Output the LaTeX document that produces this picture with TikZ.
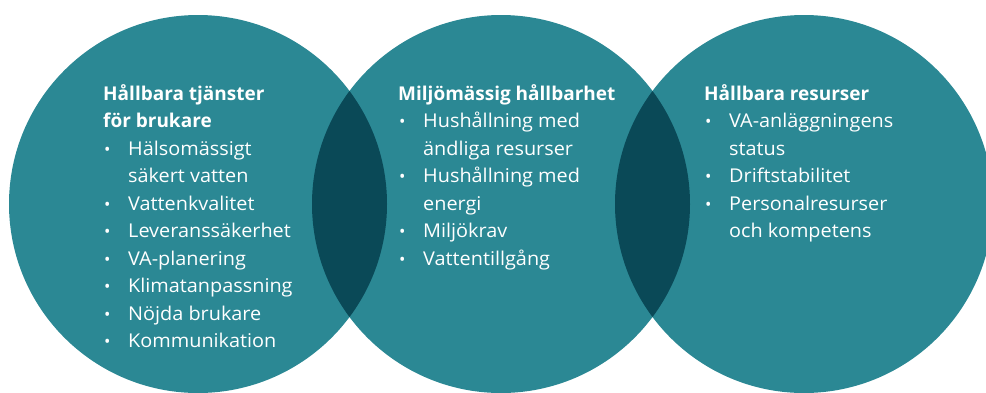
\documentclass[tikz,border=0pt]{standalone}
\usepackage{fontspec}
\setmainfont{Open Sans}
\newfontfamily\bodyfont[FakeStretch=1.045]{Open Sans}
\definecolor{teal1}{HTML}{2B8894}
\definecolor{tealdark}{HTML}{0A4957}
\tikzset{
  txt/.style={anchor=base west, inner sep=0pt, text=white, font=\bodyfont\fontsize{19}{27.5}\selectfont},
  hdr/.style={anchor=base west, inner sep=0pt, text=white, font=\fontsize{19}{27.5}\selectfont\bfseries},
  blt/.style={txt, font=\fontsize{17}{27.5}\selectfont},
}
\begin{document}
\begin{tikzpicture}[x=1pt,y=-1pt]
\useasboundingbox (0,0) rectangle (986,392);
\clip (0,0) rectangle (986,392);
\def\R{189}
\coordinate (cL) at (198,204);
\coordinate (cM) at (501,204);
\coordinate (cR) at (804,204);
\fill[teal1] (cL) circle[radius=\R];
\fill[teal1] (cM) circle[radius=\R];
\fill[teal1] (cR) circle[radius=\R];
\begin{scope}
  \clip (cL) circle[radius=\R];
  \fill[tealdark] (cM) circle[radius=\R];
\end{scope}
\begin{scope}
  \clip (cR) circle[radius=\R];
  \fill[tealdark] (cM) circle[radius=\R];
\end{scope}
% left block
\node[hdr] (l0) at (103,100) {Hållbara tjänster};
\node[hdr] (l0b) at (103,127.5) {för brukare};
\node[blt] (lb1) at (104,155) {•}; \node[txt] (l1) at (128,155) {Hälsomässigt};
\node[txt] (l1b) at (128,182.5) {säkert vatten};
\node[blt] (lb2) at (104,210) {•}; \node[txt] (l2) at (128,210) {Vattenkvalitet};
\node[blt] (lb3) at (104,237.5) {•}; \node[txt] (l3) at (128,237.5) {Leveranssäkerhet};
\node[blt] (lb4) at (104,265) {•}; \node[txt] (l4) at (128,265) {VA-planering};
\node[blt] (lb5) at (104,292.5) {•}; \node[txt] (l5) at (128,292.5) {Klimatanpassning};
\node[blt] (lb6) at (104,320) {•}; \node[txt] (l6) at (128,320) {Nöjda brukare};
\node[blt] (lb7) at (104,347.5) {•}; \node[txt] (l7) at (128,347.5) {Kommunikation};
% middle block
\node[hdr] (m0) at (398,100) {Miljömässig hållbarhet};
\node[blt] (mb1) at (399,127.5) {•}; \node[txt] (m1) at (423,127.5) {Hushållning med};
\node[txt] (m1b) at (423,155) {ändliga resurser};
\node[blt] (mb2) at (399,182.5) {•}; \node[txt] (m2) at (423,182.5) {Hushållning med};
\node[txt] (m2b) at (423,210) {energi};
\node[blt] (mb3) at (399,237.5) {•}; \node[txt] (m3) at (423,237.5) {Miljökrav};
\node[blt] (mb4) at (399,265) {•}; \node[txt] (m4) at (423,265) {Vattentillgång};
% right block
\node[hdr] (r0) at (704,100) {Hållbara resurser};
\node[blt] (rb1) at (705,127.5) {•}; \node[txt] (r1) at (729,127.5) {VA-anläggningens};
\node[txt] (r1b) at (729,155) {status};
\node[blt] (rb2) at (705,182.5) {•}; \node[txt] (r2) at (729,182.5) {Driftstabilitet};
\node[blt] (rb3) at (705,210) {•}; \node[txt] (r3) at (729,210) {Personalresurser};
\node[txt] (r3b) at (729,237.5) {och kompetens};
\end{tikzpicture}
\end{document}
